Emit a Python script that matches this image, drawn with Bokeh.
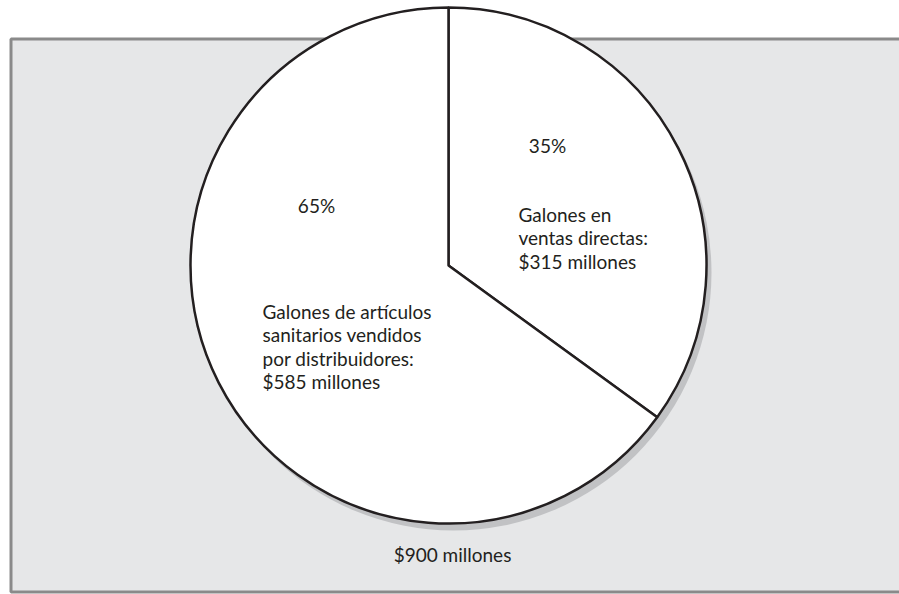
import numpy as np
from bokeh.plotting import figure
from bokeh.models import Range1d
from bokeh.core.properties import value
from bokeh.embed import file_html
from bokeh.resources import INLINE

# ---- data ----
segmentos = ["Galones en ventas directas",
             "Galones de artículos sanitarios vendidos por distribuidores"]
ventas_millones = [315, 585]
porcentajes = ["35%", "65%"]
etiquetas = [["Galones en", "ventas directas:", "$315 millones"],
             ["Galones de artículos", "sanitarios vendidos",
              "por distribuidores:", "$585 millones"]]
total_label = "$900 millones"

# ---- layout helpers (page pixel coordinates) ----
W, H, OFF = 899, 594, 0
PAGE_H = 594


def Y(py):
    return PAGE_H - py


FONT = value("Lato")
TXT = "#231f20"
FS = "19px"

p = figure(width=W, height=H, x_range=Range1d(OFF, OFF + W),
           y_range=Range1d(PAGE_H - OFF - H, PAGE_H - OFF),
           output_backend="svg", toolbar_location=None,
           x_axis_location=None, y_axis_location=None, min_border=0)
p.grid.visible = False
p.outline_line_color = None
p.background_fill_color = "white"
p.border_fill_color = "white"

# grey panel
p.quad(left=10.5, right=920, top=Y(38.5), bottom=Y(591.5),
       fill_color="#e6e7e8", line_color="#8a8a8a", line_width=3)

cx, cy, r = 448, 265, 258

# shadow
p.circle(x=[cx + 5], y=[Y(cy + 7)], radius=r, fill_color="#c1c2c4",
         line_color=None)

# pie wedges
vals = np.array(ventas_millones, dtype=float)
fracs = vals / vals.sum()
starts, ends = [], []
a = np.pi / 2
for f in fracs:
    ends.append(a)
    a = a - f * 2 * np.pi
    starts.append(a)
p.wedge(x=[cx] * len(vals), y=[Y(cy)] * len(vals), radius=r,
        start_angle=starts, end_angle=ends,
        fill_color="white", line_color="#231f20", line_width=2.5)

# percentages
p.text(x=[547, 316], y=[Y(145), Y(205)], text=porcentajes,
       text_align="center", text_baseline="middle", text_font=FONT,
       text_font_size=FS, text_color=TXT)

# labels
pos = [(518, 214), (262, 311)]
lx, ly, lt = [], [], []
for (x0, y0), lines in zip(pos, etiquetas):
    for i, t in enumerate(lines):
        lx.append(x0)
        ly.append(Y(y0 + i * 23.3))
        lt.append(t)
p.text(x=lx, y=ly, text=lt, text_align="left", text_baseline="middle",
       text_font=FONT, text_font_size=FS, text_color=TXT)

# total
p.text(x=[452], y=[Y(554)], text=[total_label], text_align="center",
       text_baseline="middle", text_font=FONT, text_font_size=FS,
       text_color=TXT)

open("out.html", "w").write(file_html(p, INLINE))
